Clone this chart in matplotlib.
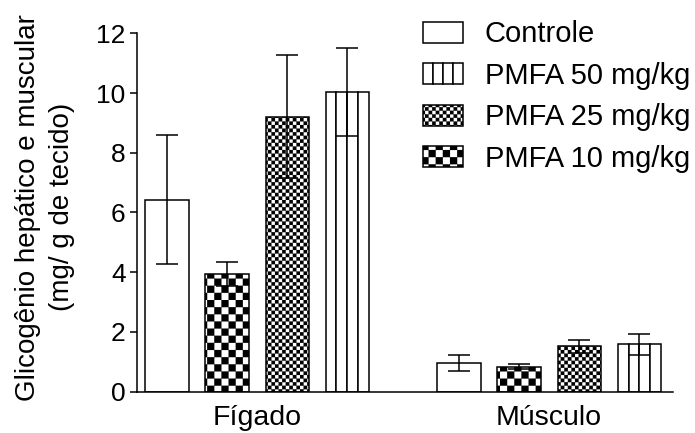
import warnings
import numpy as np
import matplotlib
matplotlib.use("Agg")
import matplotlib.pyplot as plt
import matplotlib.hatch as mhatch
from matplotlib.path import Path
from matplotlib.patches import Rectangle, Patch
from matplotlib.legend_handler import HandlerBase

warnings.filterwarnings("ignore", message="hatch must consist")

grupos = ["Fígado", "Músculo"]
# média e erro padrão (mg/g de tecido): [fígado, músculo]
controle = [6.42, 0.96]
controle_ep = [2.16, 0.28]
pmfa10 = [3.93, 0.83]
pmfa10_ep = [0.41, 0.09]
pmfa25 = [9.21, 1.51]
pmfa25_ep = [2.06, 0.21]
pmfa50 = [10.04, 1.58]
pmfa50_ep = [1.47, 0.34]
rotulos = ["Controle", "PMFA 10 mg/kg", "PMFA 25 mg/kg", "PMFA 50 mg/kg"]
yticks = [0, 2, 4, 6, 8, 10, 12]

plt.rcParams["font.family"] = ["Liberation Sans", "DejaVu Sans"]
plt.rcParams["hatch.linewidth"] = 0.1
plt.rcParams["hatch.color"] = "black"


class Xadrez(mhatch.HatchPatternBase):
    """Tabuleiro de quadrados cheios, n quadrados por polegada."""
    letra = "k"
    n = 14

    def __init__(self, hatch, density):
        n = self.n
        if self.letra in hatch:
            self.casas = [(i, j) for i in range(n) for j in range(n) if (i + j) % 2 == 0]
        else:
            self.casas = []
        self.num_vertices = 5 * len(self.casas)

    def set_vertices_and_codes(self, vertices, codes):
        s = 1.0 / self.n
        quadrado = np.array([[0, 0], [1, 0], [1, 1], [0, 1], [0, 0]]) * s
        for k, (i, j) in enumerate(self.casas):
            vertices[5 * k:5 * k + 5] = quadrado + (i * s, j * s)
            codes[5 * k] = Path.MOVETO
            codes[5 * k + 1:5 * k + 4] = Path.LINETO
            codes[5 * k + 4] = Path.CLOSEPOLY


class XadrezFino(Xadrez):
    letra = "f"
    n = 28


mhatch._hatch_types.extend([Xadrez, XadrezFino])


class HandlerColunas(HandlerBase):
    # caixa da legenda dividida em 4 colunas, igual às barras
    def create_artists(self, legend, orig_handle, xdescent, ydescent,
                       width, height, fontsize, trans):
        w = width / 4
        return [Rectangle((-xdescent + i * w, -ydescent), w, height,
                          facecolor="white", edgecolor="black",
                          linewidth=1.1, transform=trans)
                for i in range(4)]


fig = plt.figure(figsize=(6.95, 4.33), dpi=100)
ax = fig.add_axes([0.1967, 0.0958, 0.7716, 0.827])

largura = 0.72
base = np.array([0.0, 4.86])
lw = 1.1

series = [(controle, controle_ep, ""), (pmfa10, pmfa10_ep, "k"),
          (pmfa25, pmfa25_ep, "f")]
for i, (vals, ep, hatch) in enumerate(series):
    pos = base + i
    ax.bar(pos, vals, width=largura, facecolor="white", edgecolor="black",
           linewidth=lw, hatch=hatch, zorder=2)
    ax.errorbar(pos, vals, yerr=ep, fmt="none", ecolor="black",
                elinewidth=lw, capsize=8, capthick=lw, zorder=3)

# PMFA 50: barra riscada em 4 colunas
pos50 = base + 3
for j in range(4):
    ax.bar(pos50 - largura / 2 + (j + 0.5) * largura / 4, pmfa50,
           width=largura / 4, facecolor="white", edgecolor="black",
           linewidth=lw, zorder=2)
ax.errorbar(pos50, pmfa50, yerr=pmfa50_ep, fmt="none", ecolor="black",
            elinewidth=lw, capsize=8, capthick=lw, zorder=3)

ax.set_xlim(-0.504, 8.42)
ax.set_ylim(0, 12)
ax.set_yticks(yticks)
ax.set_xticks(base + 1.5)
ax.set_xticklabels(grupos, fontsize=20.5)
ax.tick_params(axis="x", length=0, pad=10)
ax.tick_params(axis="y", length=5, width=lw, labelsize=19, pad=3)
for lado in ["top", "right"]:
    ax.spines[lado].set_visible(False)
for lado in ["left", "bottom"]:
    ax.spines[lado].set_linewidth(lw)

ax.set_ylabel("Glicogênio hepático e muscular\n(mg/ g de tecido)",
              fontsize=20, linespacing=1.4)
ax.yaxis.set_label_coords(-0.115, 0.515)

h_ctrl = Patch(facecolor="white", edgecolor="black", linewidth=lw)
h_10 = Patch(facecolor="white", edgecolor="black", linewidth=lw, hatch="k")
h_25 = Patch(facecolor="white", edgecolor="black", linewidth=lw, hatch="f")
h_50 = Patch(facecolor="white", edgecolor="black", linewidth=lw)
fig.legend([h_ctrl, h_50, h_25, h_10],
           [rotulos[0], rotulos[3], rotulos[2], rotulos[1]],
           handler_map={h_50: HandlerColunas()},
           loc="upper left", bbox_to_anchor=(423 / 695, 1 - 20.5 / 433),
           frameon=False, fontsize=21, borderpad=0, borderaxespad=0,
           handlelength=1.37, handleheight=0.72, handletextpad=0.74,
           labelspacing=0.46)

fig.savefig("out.png", dpi=100)
